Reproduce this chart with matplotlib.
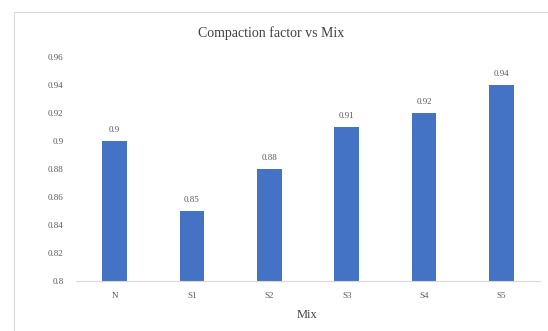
import matplotlib.pyplot as plt
from matplotlib.patches import Rectangle

mixes = ["N", "S1", "S2", "S3", "S4", "S5"]
compaction = [0.90, 0.85, 0.88, 0.91, 0.92, 0.94]
value_labels = ["0.9", "0.85", "0.88", "0.91", "0.92", "0.94"]
y_ticks = [0.80, 0.82, 0.84, 0.86, 0.88, 0.90, 0.92, 0.94, 0.96]
y_tick_labels = ["0.8", "0.82", "0.84", "0.86", "0.88", "0.9", "0.92", "0.94", "0.96"]

plt.rcParams['font.family'] = ['Liberation Serif', 'DejaVu Serif']

fig = plt.figure(figsize=(5.48, 3.31), dpi=100)
fig.patch.set_facecolor("white")

# chart frame (runs off the right and bottom edge)
fig.patches.append(Rectangle((14 / 548, -0.05), 1.0, 1 - 12 / 331 + 0.05,
                             transform=fig.transFigure, fill=False,
                             edgecolor="#d9d9d9", linewidth=0.8))

ax = fig.add_axes([76 / 548, 1 - 281 / 331, (540 - 76) / 548, (281 - 57) / 331])

x = range(len(mixes))
bars = ax.bar(x, compaction, width=0.32, color="#4472C4", zorder=2)

for b, lab in zip(bars, value_labels):
    ax.annotate(lab, (b.get_x() + b.get_width() / 2, b.get_height()),
                xytext=(0, 5), textcoords="offset points",
                ha="center", va="bottom", fontsize=6.5, color="#595959")

ax.set_xlim(-0.5, len(mixes) - 0.5)
ax.set_ylim(0.80, 0.96)
ax.set_yticks(y_ticks)
ax.set_yticklabels(y_tick_labels)
ax.set_xticks(list(x))
ax.set_xticklabels(mixes)
ax.tick_params(axis="both", length=0, labelsize=6.5, labelcolor="#595959")
ax.tick_params(axis="y", pad=9)
ax.tick_params(axis="x", pad=8)

for side in ["top", "right", "left"]:
    ax.spines[side].set_visible(False)
ax.spines["bottom"].set_color("#d9d9d9")
ax.spines["bottom"].set_linewidth(0.8)

fig.text(271 / 548, 1 - 33 / 331, "Compaction factor vs Mix",
         ha="center", va="center", fontsize=10, color="#404040")
fig.text(307 / 548, 1 - 315 / 331, "Mix",
         ha="center", va="center", fontsize=9, color="#404040")

plt.savefig("out.png", dpi=100)
